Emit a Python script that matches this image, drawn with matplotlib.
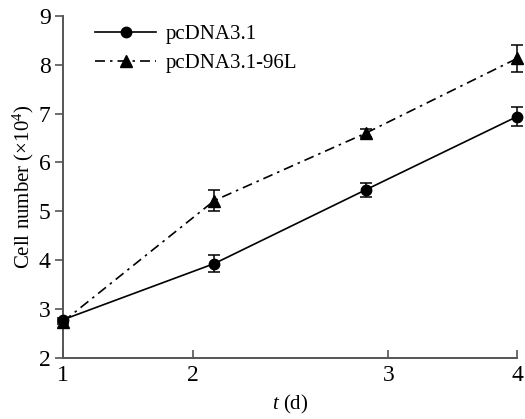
import matplotlib.pyplot as plt

# time points (d) and the (oddly placed) tick marks of the original axis
days = [1, 2, 3, 4]
tick_pos = [1, 1.86, 3.15, 4]
tick_labels = ["1", "2", "3", "4"]

# cell number (x10^4)
ctrl = [2.78, 3.93, 5.44, 6.94]
ctrl_err = [0.04, 0.17, 0.14, 0.20]
l96 = [2.74, 5.22, 6.60, 8.13]
l96_err = [0.04, 0.22, 0.08, 0.27]

plt.rcParams["font.family"] = ["Liberation Serif", "DejaVu Serif"]
plt.rcParams["mathtext.fontset"] = "custom"
plt.rcParams["mathtext.rm"] = "Liberation Serif"
plt.rcParams["mathtext.it"] = "Liberation Serif:italic"

fig = plt.figure(figsize=(5.25, 4.19), dpi=100)
ax = fig.add_axes([0.12, 0.146, 0.865, 0.816])

c1 = ax.errorbar(days, ctrl, yerr=ctrl_err, color="black", lw=1.2, marker="o",
                 ms=7.5, capsize=4, elinewidth=1.1, capthick=1.1,
                 clip_on=False, zorder=3)
c2 = ax.errorbar(days, l96, yerr=l96_err, color="black", lw=1.2, marker="^",
                 ms=8, capsize=4, elinewidth=1.1, capthick=1.1,
                 dashes=(6, 3, 1.5, 3), clip_on=False, zorder=3)

ax.set_xlim(1, 4)
ax.set_ylim(2, 9)
ax.set_xticks(tick_pos)
ax.set_xticklabels(tick_labels)
ax.set_yticks(range(2, 10))

for side in ["top", "right"]:
    ax.spines[side].set_visible(False)
for side in ["left", "bottom"]:
    ax.spines[side].set_color("#555555")
    ax.spines[side].set_linewidth(1.4)
ax.tick_params(axis="x", direction="in", length=6, width=1.2, color="#555555",
               labelsize=17, pad=5)
ax.tick_params(axis="y", direction="out", length=6, width=1.2, color="#555555",
               labelsize=17, pad=3)

ax.set_xlabel(r"$t$ (d)", fontsize=15, labelpad=5)
ax.set_ylabel(r"Cell number ($\times$10$^4$)", fontsize=15, labelpad=2)

ax.legend([c1.lines[0], c2.lines[0]], ["pcDNA3.1", "pcDNA3.1-96L"],
          loc="upper left", bbox_to_anchor=(0.03, 1.03), frameon=False,
          fontsize=15, handlelength=2.9, handletextpad=0.5,
          labelspacing=0.45)

fig.savefig("out.png", dpi=100)
